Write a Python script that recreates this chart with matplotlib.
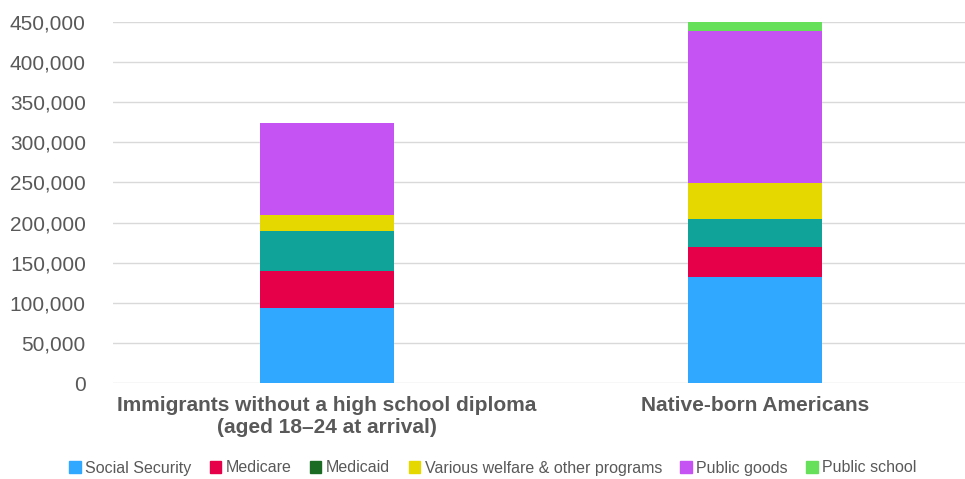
import matplotlib.pyplot as plt
from matplotlib.patches import Patch
from matplotlib.ticker import FuncFormatter

plt.rcParams['font.family'] = ['Liberation Sans', 'DejaVu Sans']

# Values (dollars)
groups = ['Immigrants without a high school diploma\n(aged 18–24 at arrival)',
          'Native-born Americans']
social_security = [93000, 132000]
medicare = [47000, 38000]
medicaid = [50000, 34000]
welfare = [20000, 45000]
public_goods = [114000, 190000]
public_school = [0, 11000]

series = [
    ('Social Security', social_security, '#31a8ff', '#31a8ff'),
    ('Medicare', medicare, '#e6004a', '#e6004a'),
    ('Medicaid', medicaid, '#0fa39a', '#1c6b24'),
    ('Various welfare & other programs', welfare, '#e5d800', '#e5d800'),
    ('Public goods', public_goods, '#c552f2', '#c552f2'),
    ('Public school', public_school, '#66e05a', '#66e05a'),
]

fig = plt.figure(figsize=(9.65, 4.79), dpi=100)
ax = fig.add_axes([0.117, 0.2004, 0.883, 0.7537])

x = [0, 1]
bottom = [0, 0]
handles = []
for name, vals, col, legcol in series:
    ax.bar(x, vals, width=0.313, bottom=bottom, color=col, zorder=3)
    bottom = [b + v for b, v in zip(bottom, vals)]
    handles.append(Patch(color=legcol, label=name))

ax.set_xlim(-0.5, 1.49)
ax.set_ylim(0, 450000)
ax.set_yticks(range(0, 450001, 50000))
ax.yaxis.set_major_formatter(FuncFormatter(lambda v, p: f'{int(v):,}'))
ax.grid(axis='y', color='#d9d9d9', linewidth=1, zorder=0)
for s in ax.spines.values():
    s.set_visible(False)
ax.tick_params(axis='y', length=0, pad=19.5, labelsize=15, labelcolor='#595959')
ax.set_xticks(x)
ax.set_xticklabels(groups, fontsize=15, fontweight='bold', color='#595959',
                   linespacing=1.25)
ax.tick_params(axis='x', length=0, pad=9)

fig.legend(handles=handles, loc='center', bbox_to_anchor=(0.511, 1 - 468 / 479),
           ncol=6, frameon=False, fontsize=11.5, handlelength=0.7, handleheight=0.7,
           handletextpad=0.3, columnspacing=1.15, labelcolor='#595959')

fig.savefig('out.png', dpi=100)
